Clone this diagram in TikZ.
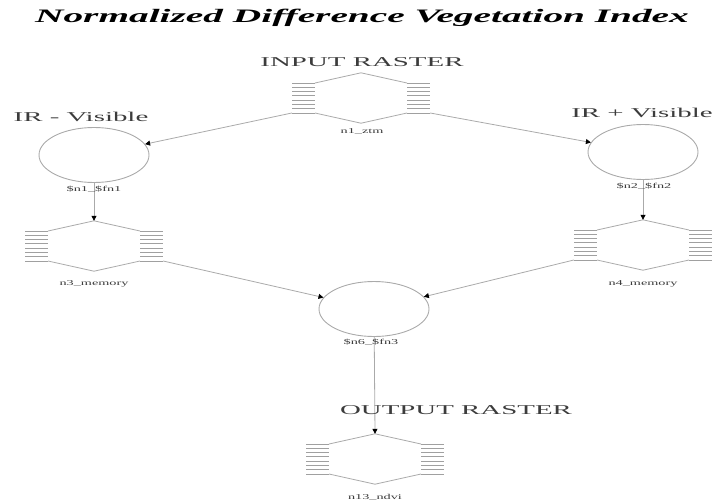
\documentclass[tikz,border=0pt]{standalone}
\usepackage{fontspec}
\setmainfont{Liberation Serif}
\usetikzlibrary{shapes.geometric,arrows.meta,calc}
\definecolor{linegray}{RGB}{170,170,170}
\definecolor{stripegray}{RGB}{160,160,160}
\definecolor{textgray}{RGB}{60,60,60}

% A raster layer: flat hexagon whose sides are drawn as a stack of short strokes
\newcommand\rasterstack[1]{%
  \draw[hexline] ($(#1.center)+(-46,-15)$) -- (#1.north) -- ($(#1.center)+(46,-15)$);
  \draw[hexline] ($(#1.center)+(-46,15)$) -- (#1.south) -- ($(#1.center)+(46,15)$);
  \foreach \k in {0,...,7}{%
    \draw[stripe] ($(#1.center)+(-69,{-15+\k*30/7})$) -- ++(23,0);
    \draw[stripe] ($(#1.center)+(46,{-15+\k*30/7})$) -- ++(23,0);
  }%
}

\begin{document}
\begin{tikzpicture}[x=1pt,y=-1pt,
  hexline/.style={draw=linegray, line width=0.8pt},
  stripe/.style={draw=stripegray, line width=0.8pt},
  edge/.style={draw=linegray, line width=0.8pt, -{Triangle[length=5pt,width=5pt,color=black]}},
  fnnode/.style={ellipse, draw=linegray, line width=0.9pt, minimum width=110pt, minimum height=55pt, inner sep=0pt},
  raster/.style={rectangle, draw=none, minimum width=138pt, minimum height=50pt, inner sep=0pt},
  heading/.style={font=\fontsize{13.5}{14}\selectfont, text=textgray, xscale=2.14, inner sep=0pt},
  tag/.style={font=\fontsize{7.5}{8}\selectfont, text=textgray, xscale=1.9, inner sep=0pt},
]
\useasboundingbox (0,0) rectangle (714,501);

\node[font=\bfseries\itshape\fontsize{19}{21}\selectfont, xscale=2.07, inner sep=0pt] (title) at (362,18) {Normalized Difference Vegetation Index};

% raster layers
\node[raster] (top) at (361,98) {};
\node[raster] (lhex) at (94,246) {};
\node[raster] (rhex) at (643,245) {};
\node[raster] (out) at (375,459) {};
\rasterstack{top}
\rasterstack{lhex}
\rasterstack{rhex}
\rasterstack{out}

% functions
\node[fnnode] (lfn) at (94,155) {};
\node[fnnode] (rfn) at (643,152) {};
\node[fnnode] (mid) at (374,309) {};

% connectors
\draw[edge] ([yshift=-15pt]top.west) -- (lfn);
\draw[edge] ([yshift=-15pt]top.east) -- (rfn);
\draw[edge] (lfn) -- (lhex.north);
\draw[edge] (rfn) -- (rhex.north);
\draw[edge] ([yshift=-15pt]lhex.east) -- (mid);
\draw[edge] ([yshift=-15pt]rhex.west) -- (mid);
\draw[edge] (mid) -- (out.north);

% headings
\node[heading] (hin) at (362,62) {INPUT RASTER};
\node[heading] (hminus) at (81,117) {IR - Visible};
\node[heading] (hplus) at (642,113) {IR + Visible};
\node[heading] (hout) at (456,410) {OUTPUT RASTER};

% node names
\node[tag] (ttop) at (362,132) {n1\_ztm};
\node[tag] (tlfn) at (94,189) {\$n1\_\$fn1};
\node[tag] (trfn) at (644,186) {\$n2\_\$fn2};
\node[tag] (tlhex) at (94,284) {n3\_memory};
\node[tag] (trhex) at (643,284) {n4\_memory};
\node[tag] (tmid) at (371,342) {\$n6\_\$fn3};
\node[tag] (tout) at (375,497) {n13\_ndvi};
\end{tikzpicture}
\end{document}
